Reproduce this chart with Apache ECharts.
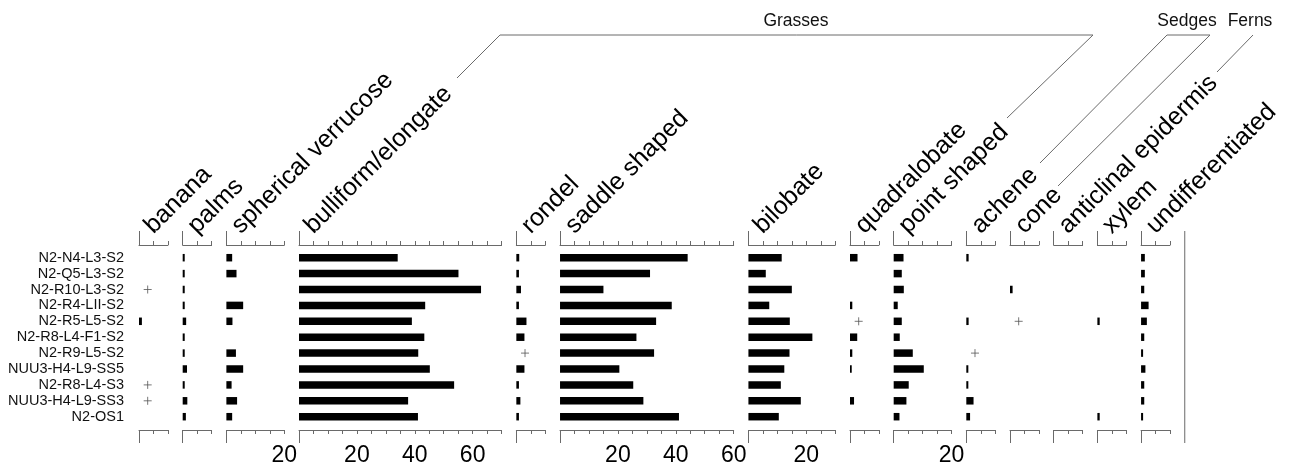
<!DOCTYPE html>
<html><head><meta charset="utf-8">
<script src="https://cdn.jsdelivr.net/npm/echarts@6/dist/echarts.min.js"></script>
<style>html,body{margin:0;padding:0;background:#fff}#c{width:1293px;height:468px}</style>
</head><body><div id="c"></div>
<script>
// ---------- data ----------
const samples = ['N2-N4-L3-S2','N2-Q5-L3-S2','N2-R10-L3-S2','N2-R4-LII-S2','N2-R5-L5-S2','N2-R8-L4-F1-S2','N2-R9-L5-S2','NUU3-H4-L9-SS5','N2-R8-L4-S3','NUU3-H4-L9-SS3','N2-OS1'];
const taxa = ['banana','palms','spherical verrucose','bulliform/elongate','rondel','saddle shaped','bilobate','quadralobate','point shaped','achene','cone','anticlinal epidermis','xylem','undifferentiated'];
const axisMax = [10,10,20,70,10,60,30,10,20,10,10,10,10,10];
const tickLabels = [20,40,60];
const tickStep = 5;

const banana      = [0,0,0,0,1.0,0,0,0,0,0,0];
const palms       = [0.7,0.7,0.7,0.7,1.2,0.7,0.7,1.5,0.7,1.6,1.1];
const spherical   = [2.0,3.5,0,5.8,2.1,0,3.3,5.8,1.8,3.7,2.0];
const bulliform   = [34.1,55.1,62.9,43.6,39.0,43.3,41.2,45.2,53.6,37.7,41.1];
const rondel      = [1.0,0.9,1.6,0.9,3.5,2.8,0,2.8,0.9,1.4,0.9];
const saddle      = [44.1,31.1,15.0,38.6,33.2,26.4,32.5,20.5,25.3,28.8,41.1];
const bilobate    = [11.5,6.0,15.0,7.2,14.3,22.1,14.2,12.4,11.2,18.1,10.5];
const quadralobate= [2.6,0,0,0.8,0,2.5,0.8,0.6,0,1.4,0];
const pointShaped = [3.4,2.8,3.5,1.4,2.8,2.1,6.6,10.4,5.2,4.4,2.0];
const achene      = [0.8,0,0,0,0.8,0,0,0.7,0.7,2.5,1.3];
const cone        = [0,0,0.9,0,0,0,0,0,0,0,0];
const anticlinal  = [0,0,0,0,0,0,0,0,0,0,0];
const xylem       = [0,0,0,0,0.8,0,0,0,0,0,0.8];
const undiff      = [1.3,1.3,1.1,2.6,2.0,1.1,0.7,1.5,1.1,1.1,0.7];

// samples where a type is present but rare (drawn as "+")
const rareBanana   = ['N2-R10-L3-S2','N2-R8-L4-S3','NUU3-H4-L9-SS3'];
const rareRondel   = ['N2-R9-L5-S2'];
const rareQuadra   = ['N2-R5-L5-S2'];
const rareAchene   = ['N2-R9-L5-S2'];
const rareCone     = ['N2-R5-L5-S2'];
const RARE_VALUE = 3;

const groups = ['Grasses','Sedges','Ferns'];

// ---------- layout ----------
const values = [banana,palms,spherical,bulliform,rondel,saddle,bilobate,quadralobate,pointShaped,achene,cone,anticlinal,xylem,undiff];
const rares  = [rareBanana,[],[],[],rareRondel,[],[],rareQuadra,[],rareAchene,rareCone,[],[],[]];
const LEFT = 139, SCALE = 2.894, GAP = 14.75;
const GRID_TOP = 249.75, GRID_H = 174.9;
const TOP_AXIS_Y = 245, BOTTOM_AXIS_Y = 430, LONG_TOP = 231, LONG_BOTTOM = 13;
const FONT = '"Liberation Sans", Arial, Helvetica, sans-serif';
const AXIS_COLOR = '#6a6a6a';

const grid = [], xAxis = [], yAxis = [], series = [];
let cum = 0;
taxa.forEach((name, i) => {
  const max = axisMax[i];
  const left = LEFT + cum * SCALE + i * GAP;
  cum += max;
  grid.push({left: left, top: GRID_TOP, width: max * SCALE, height: GRID_H, outerBoundsMode: 'none', containLabel: false});
  const ticks = [];
  for (let v = 0; v <= max; v += tickStep) ticks.push(v);
  const labs = tickLabels.filter(v => v > 0 && v <= max);
  const base = xAxis.length;
  // top main axis
  xAxis.push({
    type: 'value', gridIndex: i, position: 'top', min: 0, max: max,
    offset: GRID_TOP - TOP_AXIS_Y,
    axisLine: {show: true, lineStyle: {color: AXIS_COLOR, width: 1}},
    axisTick: {show: true, customValues: ticks, length: 4, inside: false, lineStyle: {color: AXIS_COLOR}},
    axisLabel: {show: false}, splitLine: {show: false},
    name: name, nameLocation: 'start', nameGap: -11.8, nameRotate: 45,
    nameTextStyle: {fontSize: 25, fontFamily: FONT, color: '#000', align: 'left', verticalAlign: 'bottom', padding: [0, 0, 0, 9.3]}
  });
  // top long start tick
  xAxis.push({
    type: 'value', gridIndex: i, position: 'top', min: 0, max: max,
    offset: GRID_TOP - LONG_TOP,
    axisLine: {show: false},
    axisTick: {show: true, customValues: [0], length: TOP_AXIS_Y - LONG_TOP, inside: true, lineStyle: {color: AXIS_COLOR}},
    axisLabel: {show: false}, splitLine: {show: false}
  });
  // bottom main axis
  xAxis.push({
    type: 'value', gridIndex: i, position: 'bottom', min: 0, max: max,
    offset: BOTTOM_AXIS_Y - (GRID_TOP + GRID_H),
    axisLine: {show: true, lineStyle: {color: AXIS_COLOR, width: 1}},
    axisTick: {show: true, customValues: ticks, length: 4, inside: false, lineStyle: {color: AXIS_COLOR}},
    axisLabel: labs.length ? {show: true, customValues: labs, fontSize: 23, fontFamily: FONT, color: '#000', margin: 14} : {show: false},
    splitLine: {show: false}
  });
  // bottom long start tick
  xAxis.push({
    type: 'value', gridIndex: i, position: 'bottom', min: 0, max: max,
    offset: BOTTOM_AXIS_Y - (GRID_TOP + GRID_H),
    axisLine: {show: false},
    axisTick: {show: true, customValues: [0], length: LONG_BOTTOM, inside: false, lineStyle: {color: AXIS_COLOR}},
    axisLabel: {show: false}, splitLine: {show: false}
  });
  yAxis.push({
    type: 'category', gridIndex: i, data: samples, inverse: true,
    axisLine: {show: false}, axisTick: {show: false}, splitLine: {show: false},
    axisLabel: i === 0 ? {show: true, interval: 0, fontSize: 14.5, fontFamily: FONT, color: '#111', margin: 15} : {show: false}
  });
  series.push({
    type: 'bar', xAxisIndex: base, yAxisIndex: i, barWidth: 7.5,
    itemStyle: {color: '#000'}, silent: true,
    data: values[i].map(v => v > 0 ? v : '-')
  });
  if (rares[i].length) {
    series.push({
      type: 'scatter', xAxisIndex: base, yAxisIndex: i,
      symbol: 'path://M5,0V10M0,5H10', symbolSize: 8,
      itemStyle: {color: 'none', borderColor: '#555', borderWidth: 1},
      silent: true,
      data: rares[i].map(s => [RARE_VALUE, s])
    });
  }
});

const rightX = LEFT + cum * SCALE + taxa.length * GAP;
const lineStyle = {stroke: '#6a6a6a', lineWidth: 1, fill: null};
const graphic = [
  {type: 'polyline', shape: {points: [[457,78],[500,35],[1093,35],[1007,118]]}, style: lineStyle, silent: true},
  {type: 'polyline', shape: {points: [[1040,163],[1167,35],[1210,35],[1058,186]]}, style: lineStyle, silent: true},
  {type: 'polyline', shape: {points: [[1253,35],[1217,72]]}, style: lineStyle, silent: true},
  {type: 'line', shape: {x1: rightX, y1: LONG_TOP, x2: rightX, y2: BOTTOM_AXIS_Y + LONG_BOTTOM}, style: {stroke: '#6a6a6a', lineWidth: 1}, silent: true},
  {type: 'text', x: 796, y: 21, style: {text: groups[0], font: '17.5px ' + FONT, fill: '#111', align: 'center', verticalAlign: 'middle'}},
  {type: 'text', x: 1187, y: 21, style: {text: groups[1], font: '17.5px ' + FONT, fill: '#111', align: 'center', verticalAlign: 'middle'}},
  {type: 'text', x: 1250, y: 21, style: {text: groups[2], font: '17.5px ' + FONT, fill: '#111', align: 'center', verticalAlign: 'middle'}}
];

const chart = echarts.init(document.getElementById('c'), null, {renderer: 'canvas'});
chart.setOption({
  animation: false,
  backgroundColor: '#fff',
  textStyle: {fontFamily: FONT},
  grid, xAxis, yAxis, series, graphic
});
</script></body></html>
